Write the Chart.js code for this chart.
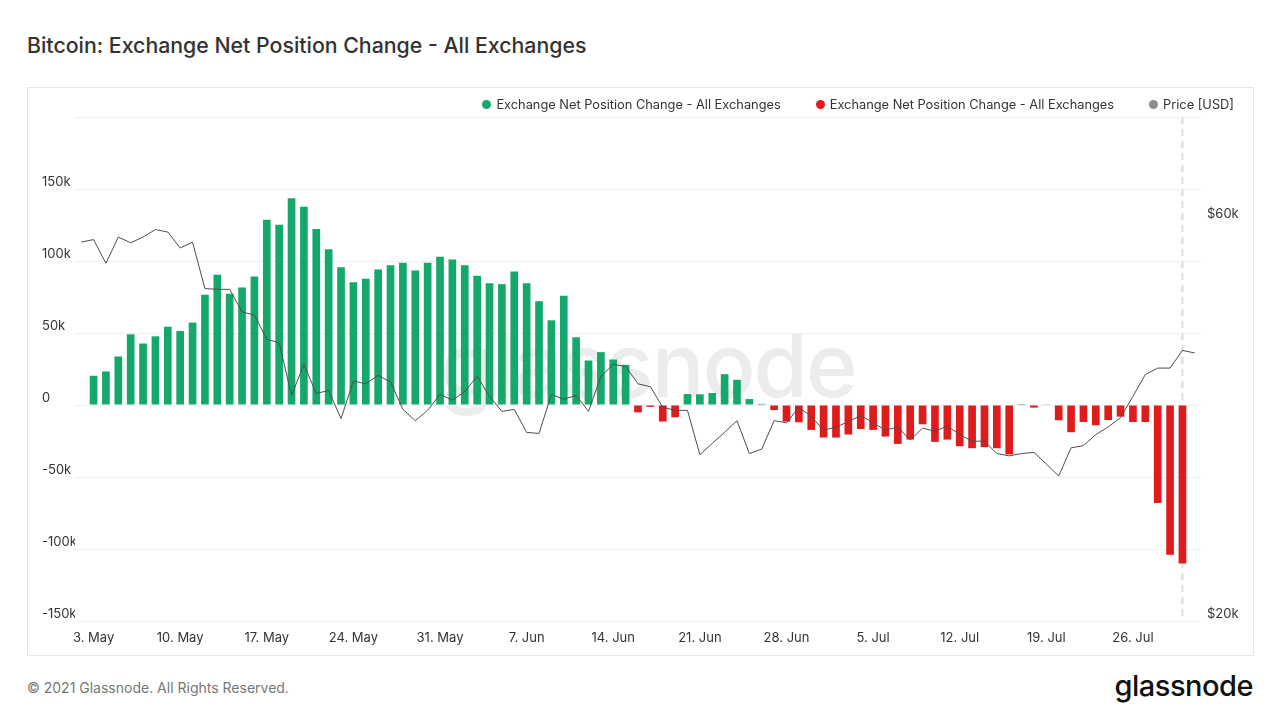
<!DOCTYPE html>
<html lang="en">
<head>
<meta charset="UTF-8">
<title>Bitcoin: Exchange Net Position Change - All Exchanges</title>
<script src="https://cdn.jsdelivr.net/npm/chart.js@4.4.1/dist/chart.umd.min.js"></script>
<style>
    body {
        margin: 0;
        width: 1280px;
        height: 720px;
        position: relative;
        overflow: hidden;
        background: #fff;
        font-family: Inter, "Noto Sans", sans-serif;
    }
    .titulo {
        position: absolute;
        left: 27px;
        top: 32px;
        margin: 0;
        font-size: 21.3px;
        font-weight: 500;
        color: #333;
    }
    .caixa {
        position: absolute;
        left: 27px;
        top: 87px;
        width: 1225px;
        height: 567px;
        border: 1px solid #e6e6e6;
    }
    .marca {
        position: absolute;
        left: 440px;
        top: 321px;
        font-size: 88px;
        line-height: 1;
        font-weight: 500;
        color: #ececec;
        letter-spacing: -2px;
    }
    #grafico {
        position: absolute;
        left: 0;
        top: 87px;
    }
    .legenda {
        position: absolute;
        right: 46px;
        top: 97px;
        display: flex;
        gap: 35px;
        font-size: 12.8px;
        color: #333;
    }
    .legenda span.bola {
        display: inline-block;
        width: 9px;
        height: 9px;
        border-radius: 50%;
        margin-right: 5px;
        vertical-align: 0px;
    }
    .rodape {
        position: absolute;
        left: 27px;
        top: 679px;
        font-size: 14px;
        color: #777;
    }
    .logo {
        position: absolute;
        right: 27px;
        top: 668px;
        font-size: 29px;
        font-weight: 500;
        color: #111;
        letter-spacing: -0.5px;
    }
</style>
</head>
<body>
    <h1 class="titulo">Bitcoin: Exchange Net Position Change - All Exchanges</h1>
    <div class="caixa"></div>
    <div class="marca">glassnode</div>
    <canvas id="grafico" width="1280" height="568"></canvas>
    <div class="legenda" id="legenda"></div>
    <div class="rodape">© 2021 Glassnode. All Rights Reserved.</div>
    <div class="logo">glassnode</div>

<script>
    // saldo liquido diario das exchanges, em milhares de BTC (3 May -> 30 Jul)
    var saldoLiquido = [
        20.3, 23.3, 33.7, 49.1, 42.7, 47.7, 54.4, 51.4, 57.2, 76.6,
        90.4, 77.2, 81.6, 89.2, 128.6, 125.2, 143.6, 137.6, 122.2, 108.1,
        95.7, 85.3, 87.6, 94.1, 97.0, 98.7, 93.4, 98.7, 103.0, 101.0,
        97.0, 89.7, 84.6, 83.9, 92.7, 84.6, 72.1, 58.8, 75.8, 47.0,
        30.9, 36.7, 31.6, 27.9, -5.1, -1.3, -11.5, -8.5, 7.6, 7.4,
        8.3, 21.4, 17.5, 4.1, 0.8, -3.5, -11.5, -12.0, -17.3, -22.6,
        -22.6, -20.5, -16.6, -17.3, -21.9, -27.0, -24.0, -13.4, -25.6, -24.0,
        -28.6, -30.0, -29.3, -30.0, -34.3, 0.7, -1.8, 0.5, -10.6, -18.9,
        -11.8, -14.1, -10.4, -8.1, -11.8, -11.8, -68.0, -104.0, -110.0
    ];

    // preco do BTC em USD (2 May -> 31 Jul)
    var preco = [
        56700, 57100, 53500, 57500, 56600, 57500, 58700, 58300, 55800, 56700,
        49900, 49800, 49800, 46800, 46400, 43400, 43000, 37200, 40500, 37400,
        37700, 34900, 38700, 38400, 39300, 38600, 35800, 34700, 35700, 37300,
        36700, 37600, 39200, 37100, 35600, 35800, 33600, 33500, 37300, 36800,
        37200, 35600, 39200, 40500, 40300, 38400, 38100, 36000, 35700, 35700,
        31600, 32600, 33600, 34700, 31700, 32100, 34700, 34500, 36000, 35100,
        33800, 34100, 34600, 35200, 34500, 33800, 34100, 32900, 34000, 33700,
        34200, 33400, 32800, 32800, 31700, 31500, 31700, 31800, 30800, 29800,
        32200, 32400, 33400, 34100, 35000, 37100, 39400, 40100, 40100, 42100,
        41800
    ];

    var marcasX = ['3. May', '10. May', '17. May', '24. May', '31. May', '7. Jun', '14. Jun',
                   '21. Jun', '28. Jun', '5. Jul', '12. Jul', '19. Jul', '26. Jul'];
    var marcasPreco = [20000, 60000];
    var diaCursor = '30. Jul';

    var corVerde = '#14a86b';
    var corVermelha = '#e01b1b';
    var corPreco = '#8c8c8c';

    // dias de 2 May ate 31 Jul
    var meses = [['May', 31], ['Jun', 30], ['Jul', 31]];
    var dias = [];
    meses.forEach(function (m, k) {
        for (var d = (k === 0 ? 2 : 1); d <= m[1]; d++) dias.push(d + '. ' + m[0]);
    });

    // separa positivos (verde) e negativos (vermelho); 2 May e 31 Jul sem barra
    var verdes = [null], vermelhos = [null];
    saldoLiquido.forEach(function (v) {
        verdes.push(v >= 0 ? v : null);
        vermelhos.push(v < 0 ? v : null);
    });
    verdes.push(null);
    vermelhos.push(null);

    var fonteEixo = { family: 'Inter', size: 13 };

    // linha tracejada vertical no ultimo dia
    var cursor = {
        id: 'cursor',
        beforeDatasetsDraw: function (chart) {
            var c = chart.ctx, area = chart.chartArea;
            var x = chart.scales.x.getPixelForValue(dias.indexOf(diaCursor));
            c.save();
            c.strokeStyle = '#dcdcdc';
            c.lineWidth = 2;
            c.setLineDash([7, 5]);
            c.beginPath();
            c.moveTo(x, area.top);
            c.lineTo(x, area.bottom);
            c.stroke();
            c.restore();
        }
    };

    var chart = new Chart(document.getElementById('grafico'), {
        data: {
            labels: dias,
            datasets: [
                {
                    type: 'line',
                    label: 'Price [USD]',
                    data: preco,
                    yAxisID: 'yPreco',
                    borderColor: '#4d4d4d',
                    backgroundColor: corPreco,
                    borderWidth: 1,
                    pointRadius: 0,
                    tension: 0,
                    order: 0
                },
                {
                    type: 'bar',
                    label: 'Exchange Net Position Change - All Exchanges',
                    data: verdes,
                    backgroundColor: corVerde,
                    grouped: false,
                    barPercentage: 0.62,
                    categoryPercentage: 1,
                    yAxisID: 'y',
                    order: 1
                },
                {
                    type: 'bar',
                    label: 'Exchange Net Position Change - All Exchanges',
                    data: vermelhos,
                    backgroundColor: corVermelha,
                    grouped: false,
                    barPercentage: 0.62,
                    categoryPercentage: 1,
                    yAxisID: 'y',
                    order: 1
                }
            ]
        },
        options: {
            responsive: false,
            animation: false,
            layout: { padding: { left: 42, right: 39, top: 30, bottom: 9 } },
            plugins: {
                legend: { display: false },
                tooltip: { enabled: false }
            },
            scales: {
                x: {
                    grid: { display: false, drawTicks: false },
                    border: { display: false },
                    ticks: {
                        autoSkip: false,
                        maxRotation: 0,
                        padding: 9,
                        color: '#333',
                        font: fonteEixo,
                        callback: function (v) {
                            var l = this.getLabelForValue(v);
                            return marcasX.indexOf(l) >= 0 ? l : '';
                        }
                    },
                    afterFit: function (s) { s.height = 25; }
                },
                y: {
                    position: 'left',
                    min: -150,
                    max: 200,
                    grid: { color: '#efefef', drawTicks: false },
                    border: { display: false },
                    ticks: {
                        stepSize: 50,
                        crossAlign: 'far',
                        labelOffset: -7,
                        color: '#333',
                        font: fonteEixo,
                        callback: function (v) {
                            if (v === 200) return '';
                            return v === 0 ? '0' : v + 'k';
                        }
                    },
                    afterFit: function (s) { s.width = 33; }
                },
                yPreco: {
                    type: 'logarithmic',
                    position: 'right',
                    min: 20000,
                    max: 80000,
                    grid: { display: false, drawTicks: false },
                    border: { display: false },
                    afterBuildTicks: function (s) {
                        s.ticks = marcasPreco.map(function (v) { return { value: v }; });
                    },
                    ticks: {
                        padding: 6,
                        labelOffset: -7,
                        color: '#333',
                        font: fonteEixo,
                        callback: function (v) { return '$' + (v / 1000) + 'k'; }
                    },
                    afterFit: function (s) { s.width = 40; }
                }
            }
        },
        plugins: [cursor]
    });

    // legenda em html a partir dos datasets
    var legenda = document.getElementById('legenda');
    [chart.data.datasets[1], chart.data.datasets[2], chart.data.datasets[0]].forEach(function (ds) {
        var item = document.createElement('div');
        item.innerHTML = '<span class="bola" style="background:' + ds.backgroundColor + '"></span>' + ds.label;
        legenda.appendChild(item);
    });
</script>
</body>
</html>
